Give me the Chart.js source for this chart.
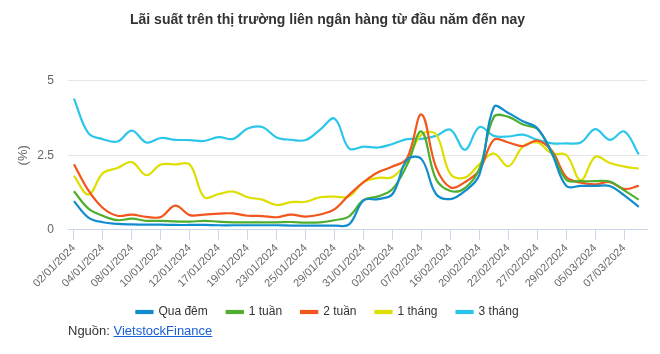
<!DOCTYPE html>
<html>
<head>
<meta charset="utf-8">
<script src="https://cdn.jsdelivr.net/npm/chart.js@4"></script>
<style>
  html, body { margin: 0; padding: 0; background: #fff; }
  #wrap { position: relative; width: 660px; height: 354px; }
  #src { position: absolute; left: 68px; top: 323px; font: 13px "Liberation Sans", Arial, sans-serif; color: #333; }
  #src a { color: #1a5fd6; text-decoration: underline; }
</style>
</head>
<body>
<div id="wrap">
  <canvas id="c" width="660" height="354"></canvas>
  <div id="src">Nguồn: <a href="#">VietstockFinance</a></div>
</div>
<script>
const dates = ["02/01/2024","03/01/2024","04/01/2024","05/01/2024","08/01/2024","09/01/2024","10/01/2024","11/01/2024","12/01/2024","16/01/2024",
  "17/01/2024","18/01/2024","19/01/2024","22/01/2024","23/01/2024","24/01/2024","25/01/2024","26/01/2024","29/01/2024","30/01/2024",
  "31/01/2024","01/02/2024","02/02/2024","05/02/2024","07/02/2024","15/02/2024","16/02/2024","19/02/2024","20/02/2024","21/02/2024",
  "22/02/2024","23/02/2024","27/02/2024","28/02/2024","29/02/2024","01/03/2024","05/03/2024","06/03/2024","07/03/2024","08/03/2024"];

const quaDem = [0.96,0.41,0.25,0.20,0.18,0.17,0.17,0.16,0.16,0.16,0.15,0.15,0.15,0.15,0.15,0.14,0.14,0.14,0.14,0.18,
  0.98,1.03,1.20,2.35,2.37,1.20,1.03,1.30,1.85,4.12,3.92,3.64,3.41,2.56,1.47,1.47,1.47,1.47,1.15,0.77];
const motTuan = [1.29,0.71,0.47,0.32,0.37,0.30,0.30,0.28,0.27,0.30,0.27,0.25,0.25,0.25,0.25,0.26,0.24,0.25,0.32,0.45,
  1.00,1.12,1.37,2.17,3.30,1.70,1.30,1.40,2.05,3.79,3.79,3.53,3.38,2.62,1.68,1.63,1.63,1.62,1.32,1.01];
const haiTuan = [2.20,1.32,0.73,0.47,0.51,0.43,0.43,0.81,0.49,0.51,0.54,0.55,0.47,0.46,0.42,0.51,0.44,0.51,0.69,1.17,
  1.60,1.93,2.12,2.40,3.87,2.10,1.42,1.60,2.00,3.02,2.93,2.81,2.99,2.65,1.77,1.58,1.52,1.60,1.37,1.47];
const motThang = [1.81,1.18,1.90,2.07,2.27,1.83,2.19,2.19,2.19,1.09,1.20,1.28,1.09,1.01,0.83,0.93,0.94,1.09,1.11,1.12,
  1.60,1.74,1.77,2.30,3.20,3.20,1.87,1.75,2.20,2.56,2.13,2.79,2.93,2.56,2.51,1.66,2.45,2.24,2.12,2.05];
const baThang = [4.40,3.24,3.04,2.96,3.33,2.93,3.08,3.02,3.01,2.98,3.11,3.05,3.40,3.45,3.10,3.02,3.01,3.36,3.73,2.73,
  2.79,2.76,2.88,3.04,3.05,3.15,3.36,2.68,3.45,3.15,3.13,3.19,3.02,2.90,2.90,2.93,3.38,3.02,3.30,2.53];

const seriesNames = ["Qua đêm","1 tuần","2 tuần","1 tháng","3 tháng"];
const seriesColors = ["#118dcf","#4fae2e","#f2561d","#dede00","#2cc6ea"];
const seriesData = [quaDem, motTuan, haiTuan, motThang, baThang];
const yTicks = [0, 2.5, 5];

const FONT = "'Liberation Sans', Arial, sans-serif";

const datasets = seriesData.map((arr, s) => ({
  label: seriesNames[s],
  data: arr.map((v, i) => ({x: i, y: v})),
  borderColor: seriesColors[s],
  backgroundColor: seriesColors[s],
  borderWidth: 2.2,
  pointRadius: 0,
  tension: 0.38,
  fill: false
}));

new Chart(document.getElementById('c'), {
  type: 'line',
  data: { datasets },
  options: {
    responsive: false,
    animation: false,
    layout: { padding: { left: 8, right: 13, top: 0, bottom: 26 } },
    plugins: {
      title: {
        display: true,
        text: "Lãi suất trên thị trường liên ngân hàng từ đầu năm đến nay",
        color: '#333333',
        font: { family: FONT, size: 14, weight: 'bold' },
        padding: { top: 12, bottom: 52 }
      },
      legend: {
        position: 'bottom',
        labels: {
          boxWidth: 16,
          boxHeight: 2,
          padding: 19,
          color: '#333333',
          font: { family: FONT, size: 12 }
        }
      },
      tooltip: { enabled: false }
    },
    scales: {
      x: {
        type: 'linear',
        min: -0.41,
        max: 39.57,
        afterBuildTicks: (axis) => {
          axis.ticks = dates.map((d, i) => i).filter(i => i % 2 === 0).map(v => ({ value: v }));
        },
        afterFit: (axis) => {
          axis.paddingLeft = 0;
          axis.paddingRight = 0;
          axis.height = axis.height - 5;
        },
        ticks: {
          autoSkip: false,
          maxRotation: 45,
          minRotation: 45,
          color: '#666666',
          font: { family: FONT, size: 11 },
          padding: 2,
          callback: (v) => dates[v]
        },
        grid: {
          drawOnChartArea: false,
          drawTicks: true,
          tickLength: 10,
          color: '#ccd6eb'
        },
        border: { display: true, color: '#ccd6eb' }
      },
      y: {
        min: 0,
        max: 5,
        afterBuildTicks: (axis) => { axis.ticks = yTicks.map(v => ({ value: v })); },
        afterFit: (axis) => { axis.width = 60; },
        ticks: {
          color: '#666666',
          font: { family: FONT, size: 12 },
          padding: 14,
          callback: (v) => String(v)
        },
        title: {
          display: true,
          text: '(%)',
          color: '#666666',
          font: { family: FONT, size: 13 },
          padding: { top: 8, bottom: 0 }
        },
        grid: { color: '#e6e6e6', drawTicks: false },
        border: { display: false }
      }
    }
  }
});
</script>
</body>
</html>
